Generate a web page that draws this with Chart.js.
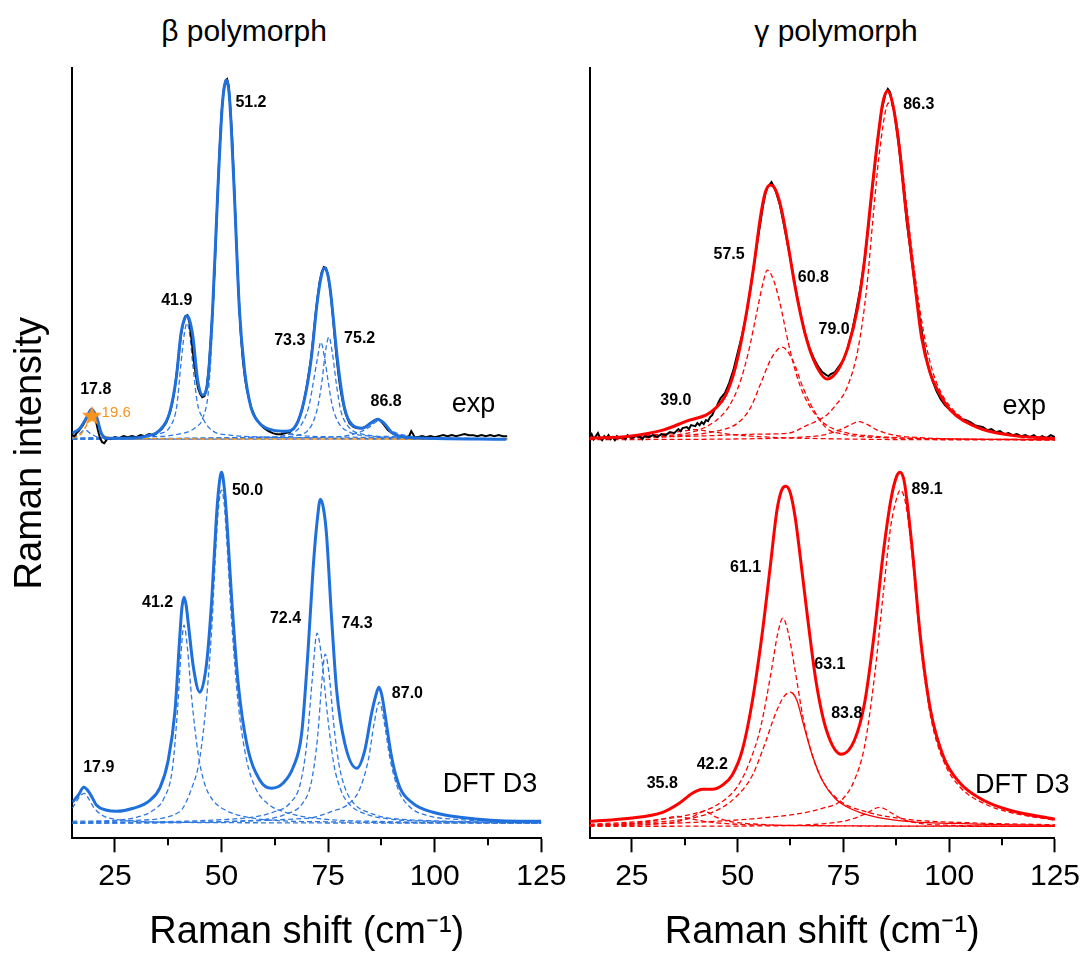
<!DOCTYPE html>
<html><head><meta charset="utf-8">
<script src="https://cdn.jsdelivr.net/npm/chart.js@4.4.1/dist/chart.umd.min.js"></script>
<style>
html,body{margin:0;padding:0;background:#fff;}
body{width:1086px;height:959px;position:relative;overflow:hidden;font-family:'Liberation Sans',Arial,sans-serif;}
.wrap{position:absolute;top:0;height:959px;}
.ttl{position:absolute;top:12px;font-size:30px;line-height:38px;color:#000;transform:translateX(-50%);white-space:nowrap;}
</style></head>
<body>
<div class="ttl" style="left:244px">β polymorph</div>
<div class="ttl" style="left:836px">γ polymorph</div>
<div class="wrap" style="left:0;width:580px"><canvas id="cL"></canvas></div>
<div class="wrap" style="left:540px;width:546px"><canvas id="cR"></canvas></div>
<script>
// ---------- axis ticks ----------
const xTicks = [25, 50, 75, 100, 125];
const xMinorTicks = [37.5, 62.5, 87.5, 112.5];

// ---------- β polymorph, experiment ----------
const betaExpFitX = [15,16.8,18.3,19.5,20.7,21.8,23,27.7,32.4,35.5,37.8,39.4,40.5,41.3,41.9,42.5,43.3,44.4,45.6,46.8,47.9,49.1,50.1,50.6,51.15,51.7,52.2,53,54.2,55.4,56.9,58.9,62,65.1,67.5,69.4,71,72.5,73.4,74.2,75,75.6,77.2,78.8,80.7,83.1,85,86.6,88.1,90.1,93.2,97.9,116.8];
const betaExpFitY = [405,410,420,429,421,405,400,400,402,408,425,461,505,519,522,518,501,458,443,458,528,645,728,750,758,748,718,645,528,468,431,415,408,407,413,438,478,538,562,570,562,545,478,431,413,410,415,419,415,405,401,400,399];
const betaExpDataX = [15,15.5,16,16.5,17,17.5,18,18.5,19,19.5,20,20.5,21,21.5,22,22.5,23,23.5,24,25,26,27,28,29,30,31,32,33,34,35,36,37,38,38.5,39,39.5,40,40.5,41,41.5,42,42.5,43,43.5,44,44.5,45,45.5,46,46.5,47,47.5,48,48.5,49,49.5,50,50.5,51,51.3,51.7,52,52.5,53,53.5,54,54.5,55,55.5,56,57,58,59,60,61,62,63,64,65,66,67,68,69,70,71,71.5,72,72.5,73,73.5,74,74.5,75,75.5,76,76.5,77,77.5,78,78.5,79,80,81,82,83,84,85,86,86.7,87.5,88,89,90,91,92,93,94,94.5,94.8,95.3,96,97,98,99,100,101,102,103,104,105,106,107,108,109,110,111,112,113,114,115,116,117];
const betaExpDataY = [403,402,405,407,410,413,417,421,425,427,425,418,408,400,396,395,398,400,399,401,400,402,401,402,401,403,402,404,403,406,409,415,427,436,448,466,484,503,515,522,523,515,497,478,462,450,444,441,442,450,470,500,535,580,635,685,725,748,758,759,752,735,700,648,595,545,505,478,460,447,430,420,414,410,407,405,404,404,405,406,410,417,430,452,480,500,522,540,556,566,571,570,562,548,527,503,480,461,446,435,426,415,411,410,410,412,415,418,419,417,414,408,405,403,402,401,402,407,405,401,401,402,401,402,401,402,403,402,403,402,403,404,403,403,402,403,402,403,402,403,402,402];
const betaExp178X = [15,16.5,18,19.5,21,23,30,117];
const betaExp178Y = [401,404,408,404,401,400,399,399];
const betaExp196X = [15,17,18.5,19.6,20.7,22,24,27,117];
const betaExp196Y = [400,404,414,423,414,404,400.5,399.5,399];
const betaExp419X = [15,30,35,38,39.5,40.5,41.3,41.9,42.5,43.3,44.3,45.6,48,52,60,75,117];
const betaExp419Y = [400,401,404,412,432,475,505,515,505,472,436,420,407,403,401,400,399];
const betaExp512X = [15,30,40,44,45.6,47,47.9,49.1,50.1,50.6,51.2,51.8,52.2,53,54.2,55.4,57,59,62,68,80,117];
const betaExp512Y = [400,401,404,411,420,450,515,640,724,747,754,745,715,642,525,465,430,415,408,403,401,399.5];
const betaExp733X = [15,60,66,68.5,70.5,71.5,72.5,73.3,74.1,75,76,77.5,80,85,95,117];
const betaExp733Y = [399,401,404,412,432,455,480,496,482,457,432,415,406,402,400,399];
const betaExp752X = [15,62,68,71,72.5,73.5,74.5,75.2,76,77,78,79.5,82,90,117];
const betaExp752Y = [399,401,403,412,430,455,490,501,485,452,427,413,405,401.5,399];
const betaExp868X = [15,75,80,83,85,86.7,88.5,90.5,94,100,117];
const betaExp868Y = [399,401,403,407,412,417,412,406,402,400,399];
const betaStarX = [19.6];
const betaStarY = [423];

// ---------- β polymorph, DFT D3 ----------
const betaDftX = [15,16.4,17.7,19.1,20.7,23.1,25.4,29.3,33.2,35.6,37.5,39.1,40.2,40.7,41.2,41.7,42.2,43.4,44.9,46.5,47.7,48.8,49.4,50,50.6,51.2,52.4,53.9,55.9,59,61.7,64.4,66.8,68.8,70.3,71.5,72.5,73.2,73.9,74.6,75.8,77,78.9,81.7,83.6,85.2,86.2,86.9,87.6,88.3,89.9,91.8,94.9,99.6,105.9,120,125];
const betaDftY = [36,43,51,45,33,28,27,30,38,51,78,128,201,230,241,233,215,171,146,175,238,321,352,366,352,321,238,155,95,58,50,55,71,105,188,271,320,339,330,305,221,148,95,70,88,125,143,151,143,125,81,51,35,26,21,17,17];
const betaDft179X = [15,16,17,17.8,18.8,20,22,25,30,40,60,125];
const betaDft179Y = [30,37,43,45,40,31,23,19,17,16,15.5,15];
const betaDft412X = [15,25,30,34,36.5,38.5,39.7,40.5,41.2,42,43,44.5,46,48,51,55,62,75,125];
const betaDft412Y = [17,18,21,28,40,70,130,185,213,190,140,85,55,38,28,22,18,16.5,15];
const betaDft500X = [15,30,40,43,44.9,46.5,47.7,48.8,49.4,50,50.6,51.2,52.4,53.9,55.9,58,61,65,72,85,125];
const betaDft500Y = [16,18,26,50,80,140,210,300,335,348,335,300,215,135,78,50,34,26,20,17,15.5];
const betaDft724X = [15,55,62,66,68.5,70,71.3,72.4,73.5,74.8,76.3,78,80,84,90,100,125];
const betaDft724Y = [15.5,20,26,35,55,95,160,205,180,125,75,48,34,24,19,17,15.5];
const betaDft743X = [15,58,65,69,71,72.5,73.6,74.3,75.2,76.3,77.5,79,81,85,92,125];
const betaDft743Y = [15,18,24,35,55,100,160,184,165,115,75,50,35,25,19,16];
const betaDft870X = [15,70,76,80,82.5,84.5,85.8,87,88.2,89.5,91.5,94,98,105,125];
const betaDft870Y = [15,20,27,35,50,80,115,136,115,80,48,32,23,19,16];

// ---------- γ polymorph, experiment ----------
const gammaExpFitX = [15,24.5,32.3,38.6,42.5,44.8,47.2,49.5,51.8,53.8,55.4,56.5,57.7,59,60.4,62,63.6,65.9,68.3,71.2,73.7,76.1,78.4,80,81.5,83.1,84.3,85.4,86.6,88.2,89.7,91.7,93.5,95.6,97.5,100.3,106.5,114.3,125];
const gammaExpFitY = [400,402,408,418,423,430,443,471,518,571,621,645,653,648,628,591,551,505,475,459,468,491,531,578,638,698,735,747,735,691,631,561,500,464,446,428,411,403,399.5];
const gammaExpDataX = [15,15.5,16,16.5,17,17.5,18,18.5,19,19.5,20,20.5,21,21.5,22,23,23.5,24,25,26,27,27.5,28,29,30,31,32,33,34,35,36,36.5,37,38,38.5,39,40,40.5,41,41.5,42,42.5,43,43.5,44,44.5,45,45.5,46,47,48,49,50,51,52,53,54,55,56,56.5,57,57.5,58,58.5,59,60,61,62,63,64,65,66,67,68,69,70,71,71.5,72,73,74,75,76,77,78,79,80,81,82,83,84,85,85.5,86,87,88,89,90,91,92,93,94,95,96,97,98,99,100,101,102,103,104,105,106,107,108,109,110,111,112,113,114,115,116,117,118,119,120,121,122,123,124,125];
const gammaExpDataY = [401,404,399,402,405,400,398,402,400,403,399,401,398,402,400,401,399,403,400,402,401,399,402,401,403,401,404,403,406,405,409,407,410,411,409,413,412,415,413,416,414,418,417,421,423,428,431,436,440,445,455,468,485,502,522,548,577,605,632,643,650,653,656,652,647,633,612,590,567,543,522,504,490,480,472,466,463,462,464,466,472,478,490,506,527,550,578,615,657,695,727,745,749,746,727,696,658,615,583,550,520,494,472,458,447,439,433,429,426,422,419,418,416,413,412,411,408,409,406,407,404,405,403,404,402,403,401,403,400,402,400,403,401];
const gammaExp390X = [15,25,32,37,40,43,48,55,70,125];
const gammaExp390Y = [400,401.5,404,407,408.5,407,404,401.5,399.5,398];
const gammaExp575X = [15,30,40,45,48,50.5,52.5,54.5,56,57,58.5,60,62,64,66,68.5,71,75,82,95,125];
const gammaExp575Y = [399.5,402,407,418,432,455,485,525,555,568,558,535,495,462,440,423,413,406,402,399.5,398.5];
const gammaExp608X = [15,35,45,50,53,55.5,58,60.5,63,65.5,68,71,75,85,125];
const gammaExp608Y = [399,402,407,415,430,455,480,491,478,450,428,410,404,400.5,398.5];
const gammaExp790X = [15,55,65,70,74,77,78.5,80.5,83,87,93,105,125];
const gammaExp790Y = [398.5,399.5,401,403,408,414,416.5,414,408,403,400.5,399,398.5];
const gammaExp863X = [15,40,55,62,66,71,73,76,78.5,80.5,82,83.5,85.7,87.5,89,90.5,92,94,96,98,101,106,114,125];
const gammaExp863Y = [400,402,404,405,412,423,432,452,490,550,620,685,735,718,668,612,560,505,468,446,428,413,404,400];

// ---------- γ polymorph, DFT D3 ----------
const gammaDftX = [15,24.5,32.3,36.2,39.3,41.7,44,46.4,48.7,51.1,53.4,55.7,57.7,59.3,60.4,61.4,62.4,63.6,65.1,66.7,68.6,71,74.5,77.6,80,82.3,84.3,86.2,87.6,88.4,89.2,89.7,91.3,93.2,95.6,98.7,102.6,108.1,114.3,125];
const gammaDftY = [17,20,26,35,45,49,49,53,63,88,135,201,271,328,348,352,346,321,271,215,155,108,84,98,135,205,281,338,362,366,360,348,288,201,128,81,55,38,28,19];
const gammaDft358X = [15,25,30,33,35.8,38.5,42,48,60,125];
const gammaDft358Y = [13,15,17.5,20,22,20,17,14.5,13,12];
const gammaDft422X = [15,30,36,39.5,42.2,44.5,48,55,70,125];
const gammaDft422Y = [12.5,14,17,22,27,22,17,14,12.5,12];
const gammaDft611X = [15,30,40,45,50,53,55.5,58,59.5,60.7,62,63.5,65.5,67.5,70,74,80,90,105,125];
const gammaDft611Y = [14,18,25,33,52,78,112,168,205,220,205,170,120,85,58,38,27,19,15.5,13.5];
const gammaDft631X = [15,30,40,46,50,53.5,56.5,59,61,62.5,64,65.5,67.5,70,73,77,82,90,105,125];
const gammaDft631Y = [13,16,21,30,43,63,95,125,142,146,138,115,85,58,40,29,22,17,14.5,13];
const gammaDft838X = [15,60,70,76,80,83.6,86.5,89,93,100,125];
const gammaDft838Y = [12,12.5,14.5,18,24,31,25,19,15,13,12];
const gammaDft891X = [15,40,55,65,70,74.5,77.6,80,82.3,84.3,86.2,87.6,88.4,89.7,91.3,93.2,95.6,98.7,102.6,108.1,114.3,125];
const gammaDft891Y = [13,16,20,25,30,38,58,92,160,240,312,340,348,335,280,195,122,77,51,35,26,18];

// ---------- peak annotations (text, x in cm-1, intensity) ----------
const betaPeakLabels = [['51.2',56.9,735.5],['41.9',39.5,537],['73.3',66.0,498],['75.2',82.4,500],['86.8',88.6,437],['17.8',20.5,449],
  ['50.0',56.1,348],['41.2',35.0,236],['72.4',65.0,220],['74.3',81.8,215],['87.0',93.6,145],['17.9',21.2,71]];
const betaMarkLabels = [['19.6',25.3,425.7]];
const gammaPeakLabels = [['86.3',92.8,733],['57.5',48.0,583],['60.8',67.9,560],['79.0',72.8,509],['39.0',35.4,438],
  ['89.1',94.8,349],['61.1',51.9,270.5],['63.1',71.8,174],['83.8',75.8,125],['42.2',44.0,73.5],['35.8',32.2,55]];
const betaSpectrumNames = [['exp',104.0,426.3],['DFT D3',101.9,46.6]];
const gammaSpectrumNames = [['exp',112.6,424],['DFT D3',106.1,45.3]];

// ---------- drawing ----------
const FONT = "'Liberation Sans', Arial, sans-serif";
Chart.defaults.font.family = FONT;
Chart.defaults.color = '#000';
const BLUE = '#1f6fdc', BLUE_D = '#2f78e0', RED = '#ff0000', ORANGE = '#f7931e';

const pts = (xs, ys) => xs.map((x, i) => ({x, y: ys[i]}));
function curve(xs, ys, color, width, dash, extra) {
  return Object.assign({data: pts(xs, ys), borderColor: color, backgroundColor: color, borderWidth: width,
    borderDash: dash || [], pointRadius: 0, fill: false, cubicInterpolationMode: 'monotone'}, extra || {});
}
function raw(xs, ys, color, width) {
  return {data: pts(xs, ys), borderColor: color, borderWidth: width, pointRadius: 0, fill: false, tension: 0};
}
const DASH = [5, 3];

function starImage(size, color) {
  const c = document.createElement('canvas'); c.width = size; c.height = size;
  const g = c.getContext('2d'); g.fillStyle = color; g.beginPath();
  for (let i = 0; i < 10; i++) {
    const r = i % 2 ? size * 0.21 : size * 0.5;
    const a = -Math.PI / 2 + i * Math.PI / 5;
    g.lineTo(size / 2 + r * Math.cos(a), size * 0.55 + r * Math.sin(a));
  }
  g.closePath(); g.fill(); return c;
}

const textPlugin = {
  id: 'peakText',
  afterDatasetsDraw(chart, args, opts) {
    const {ctx} = chart; const xs = chart.scales.x, ys = chart.scales.y;
    ctx.save();
    for (const it of opts.items) {
      ctx.font = it.font; ctx.fillStyle = it.color; ctx.textAlign = it.align; ctx.textBaseline = it.baseline;
      ctx.fillText(it.text, xs.getPixelForValue(it.x), ys.getPixelForValue(it.y));
    }
    ctx.strokeStyle = '#000'; ctx.lineWidth = 2;
    const b = chart.chartArea.bottom;
    for (const v of opts.minor) {
      const px = Math.round(xs.getPixelForValue(v));
      ctx.beginPath(); ctx.moveTo(px, b); ctx.lineTo(px, b + 7); ctx.stroke();
    }
    ctx.restore();
  }
};

function labelItems(peaks, marks, names) {
  const out = [];
  peaks.forEach(p => out.push({text: p[0], x: p[1], y: p[2], font: `bold 16px ${FONT}`, color: '#000', align: 'center', baseline: 'middle'}));
  marks.forEach(p => out.push({text: p[0], x: p[1], y: p[2], font: `15px ${FONT}`, color: ORANGE, align: 'center', baseline: 'middle'}));
  names.forEach(p => out.push({text: p[0], x: p[1], y: p[2], font: `27px ${FONT}`, color: '#000', align: 'left', baseline: 'alphabetic'}));
  return out;
}

function makeOptions(yWidth, padRight, yTitle, items) {
  return {
    responsive: true, maintainAspectRatio: false, animation: false, devicePixelRatio: 1,
    layout: {padding: {left: 0, top: 68, right: padRight, bottom: 0}},
    plugins: {legend: {display: false}, tooltip: {enabled: false}, peakText: {items, minor: xMinorTicks}},
    scales: {
      x: {type: 'linear', min: 15, max: 125, position: 'bottom',
        afterBuildTicks: s => { s.ticks = xTicks.map(v => ({value: v})); },
        afterFit: s => { s.height = 120.7; },
        ticks: {font: {size: 30}, color: '#000', padding: 6, maxRotation: 0, autoSkip: false},
        grid: {display: true, drawOnChartArea: false, drawTicks: true, tickLength: 14, tickWidth: 2, tickColor: '#000'},
        border: {display: true, color: '#000', width: 2},
        title: {display: true, text: 'Raman shift (cm⁻¹)', font: {size: 38}, color: '#000', padding: {top: 0, bottom: 4}}
      },
      y: {type: 'linear', min: 0, max: 770, position: 'left',
        afterFit: s => { s.width = yWidth; },
        ticks: {display: false}, grid: {display: false},
        border: {display: true, color: '#000', width: 2},
        title: yTitle ? {display: true, text: 'Raman intensity', font: {size: 38}, color: '#000', padding: {top: 8, bottom: 0}} : {display: false}
      }
    }
  };
}

const betaDatasets = [
  {type: 'scatter', data: pts(betaStarX, betaStarY), pointStyle: starImage(21, ORANGE), pointRadius: 10, showLine: false},
  curve(betaExpFitX, betaExpFitY, BLUE, 3),
  curve(betaDftX, betaDftY, BLUE, 3),
  raw(betaExpDataX, betaExpDataY, '#000', 2),
  curve(betaExp196X, betaExp196Y, ORANGE, 1.5, DASH),
  curve(betaExp178X, betaExp178Y, BLUE_D, 1.3, DASH),
  curve(betaExp419X, betaExp419Y, BLUE_D, 1.3, DASH),
  curve(betaExp512X, betaExp512Y, BLUE_D, 1.3, DASH),
  curve(betaExp733X, betaExp733Y, BLUE_D, 1.3, DASH),
  curve(betaExp752X, betaExp752Y, BLUE_D, 1.3, DASH),
  curve(betaExp868X, betaExp868Y, BLUE_D, 1.3, DASH),
  curve(betaDft179X, betaDft179Y, BLUE_D, 1.3, DASH),
  curve(betaDft412X, betaDft412Y, BLUE_D, 1.3, DASH),
  curve(betaDft500X, betaDft500Y, BLUE_D, 1.3, DASH),
  curve(betaDft724X, betaDft724Y, BLUE_D, 1.3, DASH),
  curve(betaDft743X, betaDft743Y, BLUE_D, 1.3, DASH),
  curve(betaDft870X, betaDft870Y, BLUE_D, 1.3, DASH)
];

const gammaDatasets = [
  curve(gammaExpFitX, gammaExpFitY, RED, 3),
  curve(gammaDftX, gammaDftY, RED, 3),
  raw(gammaExpDataX, gammaExpDataY, '#000', 2),
  curve(gammaExp390X, gammaExp390Y, RED, 1.3, DASH),
  curve(gammaExp575X, gammaExp575Y, RED, 1.3, DASH),
  curve(gammaExp608X, gammaExp608Y, RED, 1.3, DASH),
  curve(gammaExp790X, gammaExp790Y, RED, 1.3, DASH),
  curve(gammaExp863X, gammaExp863Y, RED, 1.3, DASH),
  curve(gammaDft358X, gammaDft358Y, RED, 1.3, DASH),
  curve(gammaDft422X, gammaDft422Y, RED, 1.3, DASH),
  curve(gammaDft611X, gammaDft611Y, RED, 1.3, DASH),
  curve(gammaDft631X, gammaDft631Y, RED, 1.3, DASH, {segment: {borderDash: c => c.p0.parsed.x >= 62.5 ? [] : undefined}}),
  curve(gammaDft838X, gammaDft838Y, RED, 1.3, DASH),
  curve(gammaDft891X, gammaDft891Y, RED, 1.3, DASH)
];

new Chart(document.getElementById('cL'), {
  type: 'line', data: {datasets: betaDatasets},
  options: makeOptions(72.3, 580 - 541.3, true, labelItems(betaPeakLabels, betaMarkLabels, betaSpectrumNames)),
  plugins: [textPlugin]
});
new Chart(document.getElementById('cR'), {
  type: 'line', data: {datasets: gammaDatasets},
  options: makeOptions(49.5, 546 - 519, false, labelItems(gammaPeakLabels, [], gammaSpectrumNames)),
  plugins: [textPlugin]
});
</script>
</body></html>
